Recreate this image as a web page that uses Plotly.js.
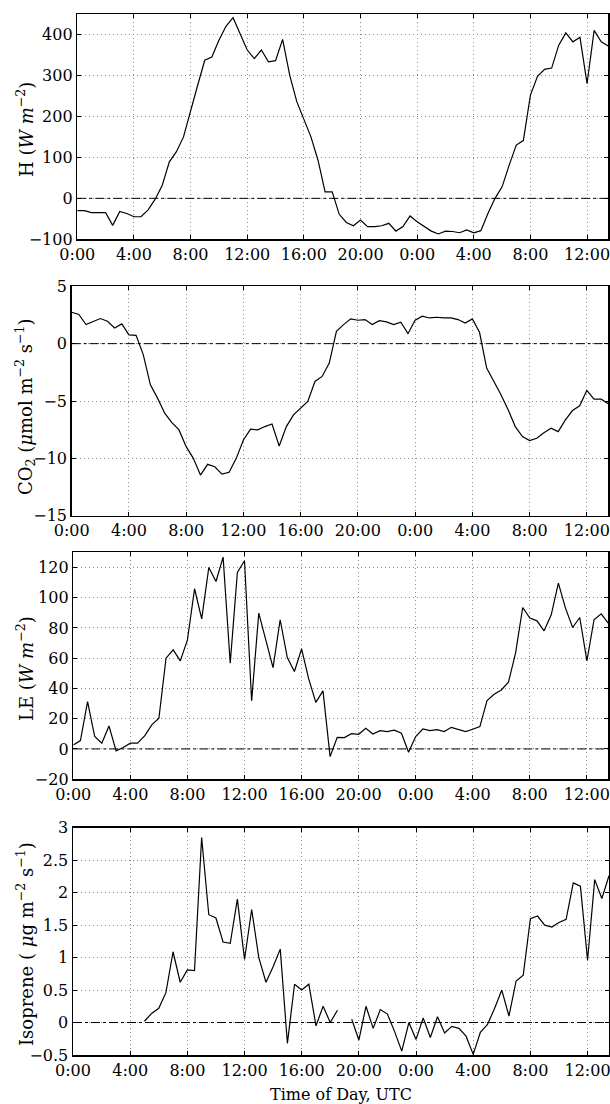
<!DOCTYPE html>
<html>
<head>
<meta charset="utf-8">
<script src="https://cdn.plot.ly/plotly-3.0.1.min.js"></script>
<style>html,body{margin:0;padding:0;background:#fff;}#chart{width:610px;height:1104px;}</style>
</head>
<body>
<div id="chart"></div>
<script>
// Time of day in hours since first midnight (half-hourly samples)
const hours = [0,0.5,1,1.5,2,2.5,3,3.5,4,4.5,5,5.5,6,6.5,7,7.5,8,8.5,9,9.5,10,10.5,11,11.5,12,12.5,13,13.5,14,14.5,15,15.5,16,16.5,17,17.5,18,18.5,19,19.5,20,20.5,21,21.5,22,22.5,23,23.5,24,24.5,25,25.5,26,26.5,27,27.5,28,28.5,29,29.5,30,30.5,31,31.5,32,32.5,33,33.5,34,34.5,35,35.5,36,36.5,37,37.5];

const tickVals = [0,4,8,12,16,20,24,28,32,36];
const tickLabels = ["0:00","4:00","8:00","12:00","16:00","20:00","0:00","4:00","8:00","12:00"];

// Sensible heat flux H (W m^-2)
const H = [-30,-30,-35,-35,-35,-66,-32,-37,-45,-45,-28,-2,32,89,114,150,215,276,337,345,386,420,441,402,362,341,362,333,336,388,301,236,195,150,93,16,16,-39,-59,-67,-53,-69,-69,-67,-61,-80,-69,-43,-57,-69,-80,-87,-80,-81,-84,-77,-84,-79,-37,0,28,81,130,141,252,298,315,318,374,404,382,393,280,410,382,372];

// CO2 flux (umol m^-2 s^-1)
const CO2 = [2.74,2.54,1.66,1.95,2.19,1.95,1.37,1.72,0.76,0.73,-0.96,-3.59,-4.75,-6.06,-6.88,-7.52,-8.98,-10.0,-11.46,-10.52,-10.73,-11.37,-11.22,-10.0,-8.4,-7.46,-7.52,-7.23,-7.0,-8.92,-7.23,-6.21,-5.63,-5.04,-3.3,-2.86,-1.7,1.08,1.66,2.16,2.04,2.1,1.66,2.0,1.9,1.66,1.87,0.87,2.04,2.39,2.24,2.3,2.24,2.24,2.1,1.8,2.16,0.99,-2.13,-3.3,-4.46,-5.77,-7.23,-8.1,-8.45,-8.25,-7.76,-7.38,-7.67,-6.65,-5.83,-5.42,-4.08,-4.84,-4.84,-5.25];

// Latent heat flux LE (W m^-2)
const LE = [2.6,5.5,31.3,8.2,3.8,15.2,-1.3,0.9,3.8,3.8,8.6,15.9,20.3,60,65.5,58.2,72.1,105.9,86,120,110.7,126.8,56.7,116.7,124.4,31.8,89.8,72.1,53.8,85.4,60.4,51.2,66.2,46.3,30.8,38.4,-5.1,7.7,7.5,10.1,9.7,13.7,9.9,12.1,11.5,12.4,10.4,-2.2,8.2,13.2,12.1,12.8,11.5,14.3,13,11.5,13,14.8,32,36.2,39,44.1,63.3,93.5,86.5,84.7,78.1,88.7,109.6,93.1,80.3,86.9,58.2,85.4,89.3,83.2];

// Isoprene flux (ug m^-2 s^-1), null = missing
const ISO = [null,null,null,null,null,null,null,null,null,null,0.02,0.14,0.22,0.46,1.09,0.62,0.81,0.8,2.85,1.66,1.61,1.24,1.22,1.9,0.97,1.74,1.0,0.62,0.86,1.13,-0.32,0.59,0.5,0.59,-0.05,0.25,0.0,0.19,null,0.05,-0.27,0.25,-0.09,0.2,0.13,-0.14,-0.44,0.0,-0.26,0.07,-0.23,0.09,-0.16,-0.06,-0.09,-0.21,-0.49,-0.15,-0.03,0.22,0.5,0.1,0.64,0.73,1.6,1.64,1.5,1.47,1.54,1.59,2.15,2.1,0.96,2.2,1.91,2.26];

const yTitles = [
  "H (<i>W m</i><sup>−2</sup>)",
  "CO<sub>2</sub> (<i>μ</i>mol m<sup>−2</sup> s<sup>−1</sup>)",
  "LE (<i>W m</i><sup>−2</sup>)",
  "Isoprene ( <i>μ</i>g m<sup>−2</sup> s<sup>−1</sup>)"
];
const xTitle = "Time of Day, UTC";

const W = 610, HH = 1104;
const FONT = "DejaVu Serif";
function dom(a, b) { return [a / W, b / W]; }
function ydom(top, bot) { return [1 - bot / HH, 1 - top / HH]; }

const panels = [
  {y: H,   l: 77.3, r: 608.3, t: 14,    b: 239.3, range: [-100, 450], dtick: 100, ty: 129},
  {y: CO2, l: 71.7, r: 608.3, t: 286.3, b: 515.7, range: [-15, 5],    dtick: 5,   ty: 407},
  {y: LE,  l: 73.3, r: 608.3, t: 552.3, b: 779.2, range: [-20, 130],  dtick: 20,  ty: 668},
  {y: ISO, l: 73,   r: 609,   t: 827.7, b: 1055,  range: [-0.5, 3],   dtick: 0.5, ty: 944}
];

const data = [];
const layout = {
  width: W, height: HH,
  margin: {l: 0, r: 0, t: 0, b: 0},
  paper_bgcolor: "#fff", plot_bgcolor: "#fff",
  showlegend: false,
  font: {family: FONT, size: 16, color: "#000"},
  shapes: [], annotations: []
};

panels.forEach((p, k) => {
  const n = k + 1;
  const sfx = n === 1 ? "" : String(n);
  const xa = "x" + sfx, ya = "y" + sfx;
  data.push({x: hours, y: p.y, xaxis: xa, yaxis: ya, type: "scatter", mode: "lines",
             line: {color: "#000", width: 1.2}, connectgaps: false});
  const common = {
    showline: true, linecolor: "#000", linewidth: 1.5, mirror: "ticks",
    ticks: "inside", ticklen: 4, tickwidth: 1, tickcolor: "#000",
    showgrid: true, gridcolor: "#8a8a8a", gridwidth: 1, griddash: "1px,3px",
    zeroline: false, automargin: false, ticklabeloverflow: "allow",
    tickfont: {family: FONT, size: 16, color: "#000"}
  };
  const xaxis = Object.assign({}, common, {
    domain: dom(p.l, p.r), anchor: ya, range: [0, 37.5],
    tickmode: "array", tickvals: tickVals, ticktext: tickLabels
  });
  if (n === 4) xaxis.title = {text: xTitle, font: {family: FONT, size: 16}, standoff: 10};
  layout["xaxis" + sfx] = xaxis;
  layout["yaxis" + sfx] = Object.assign({}, common, {
    domain: ydom(p.t, p.b), anchor: xa, range: p.range, dtick: p.dtick, tick0: 0
  });
  layout.annotations.push({
    text: yTitles[k], xref: "paper", yref: "paper",
    x: 25 / W, y: 1 - p.ty / HH, xanchor: "center", yanchor: "middle",
    textangle: -90, showarrow: false, font: {family: FONT, size: 18, color: "#000"}
  });
  layout.shapes.push({type: "line", xref: xa + " domain", yref: ya, x0: 0, x1: 1, y0: 0, y1: 0,
                      line: {color: "#000", width: 1, dash: "dashdot"}});
});

Plotly.newPlot("chart", data, layout, {displayModeBar: false, staticPlot: true});
</script>
</body>
</html>
